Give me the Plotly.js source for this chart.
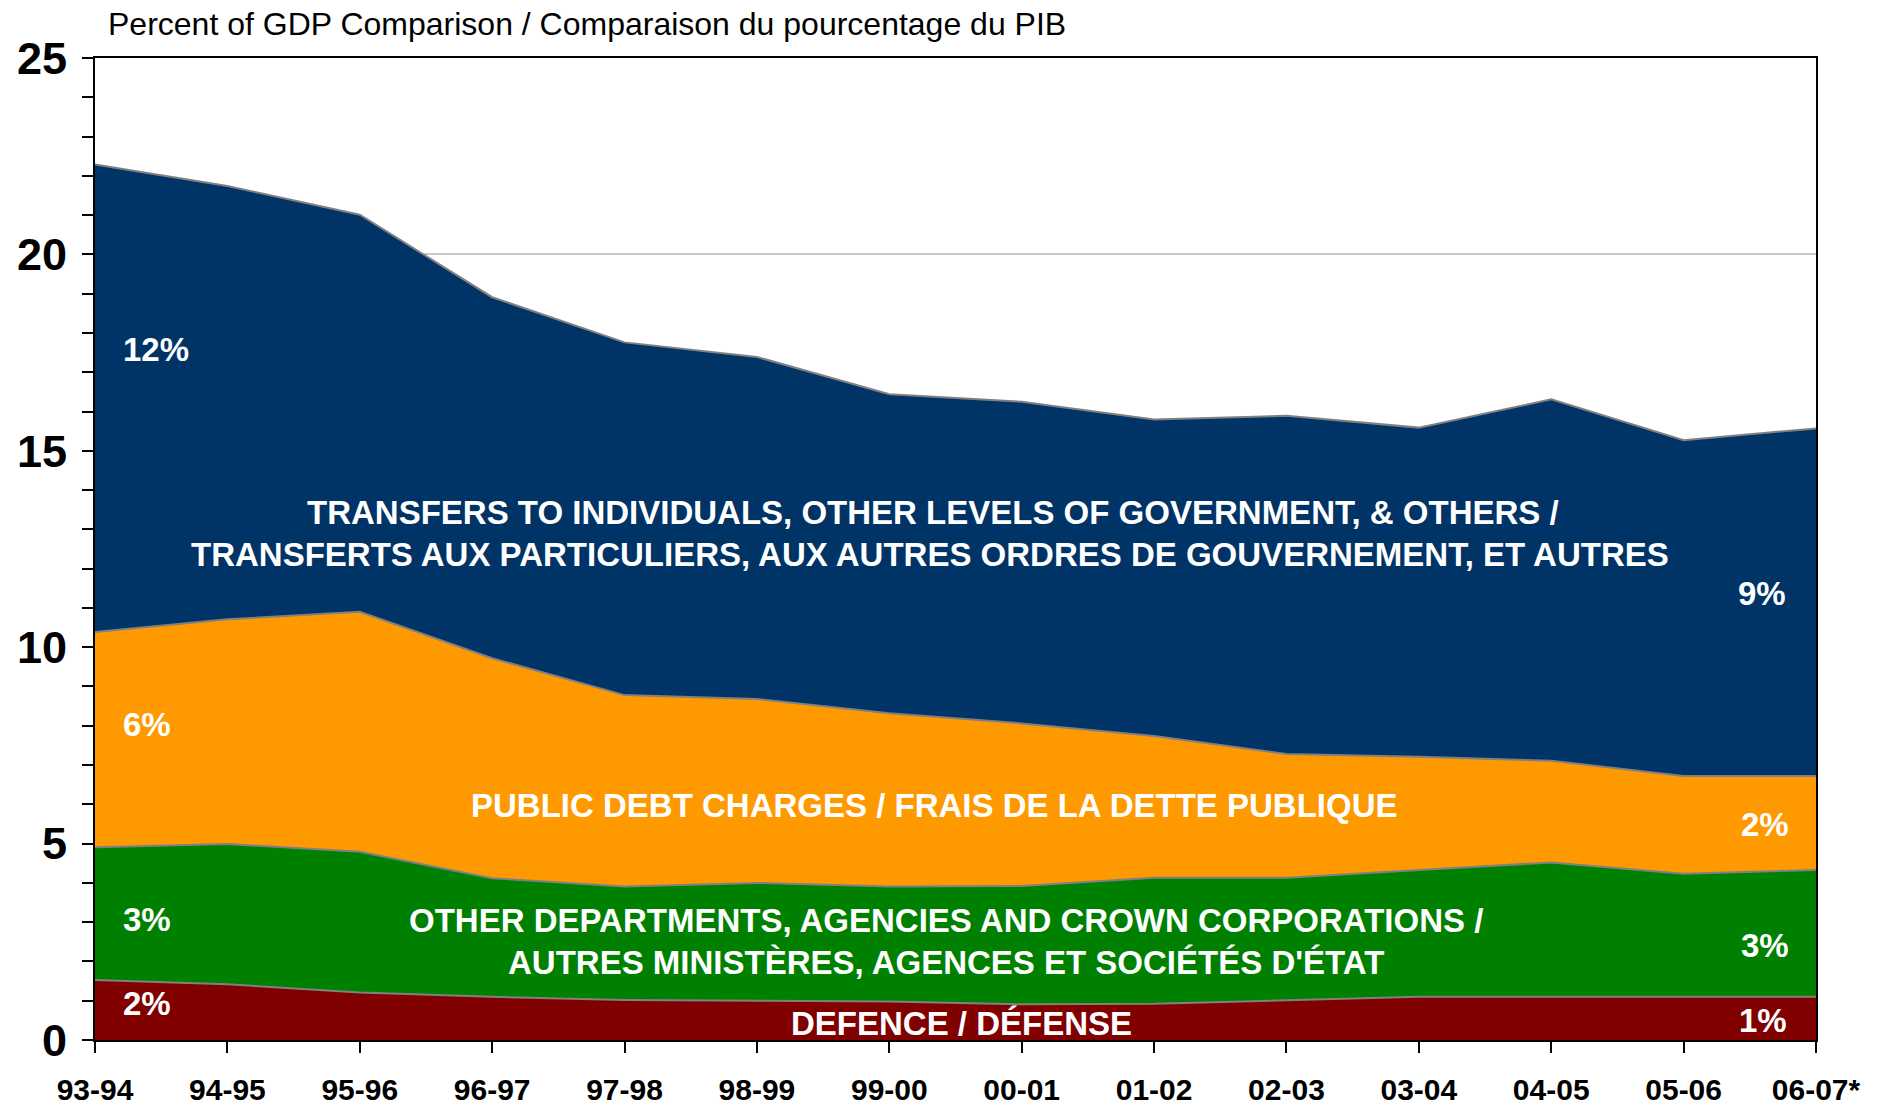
<!DOCTYPE html>
<html>
<head>
<meta charset="utf-8">
<script src="https://cdn.plot.ly/plotly-3.0.1.min.js"></script>
<style>html,body{margin:0;padding:0;background:#fff}#chart{width:1883px;height:1106px}</style>
</head>
<body>
<div id="chart"></div>
<script>
const years = ["93-94","94-95","95-96","96-97","97-98","98-99","99-00","00-01","01-02","02-03","03-04","04-05","05-06","06-07*"];
const defence   = [1.53,1.42,1.21,1.10,1.02,1.00,0.98,0.91,0.92,1.01,1.10,1.10,1.10,1.10];
const otherDept = [3.38,3.57,3.58,3.02,2.89,3.00,2.93,3.01,3.21,3.12,3.23,3.42,3.13,3.23];
const debt      = [5.48,5.72,6.11,5.60,4.87,4.68,4.41,4.14,3.61,3.15,2.88,2.59,2.49,2.39];
const transfers = [11.90,11.03,10.11,9.19,8.98,8.71,8.12,8.19,8.06,8.61,8.38,9.20,8.55,8.85];
const yTicks = [0,5,10,15,20,25];

const FONT = "Liberation Sans, Arial, sans-serif";
function area(name, vals, color){
  return {x: years, y: vals, name: name, type: 'scatter', mode: 'lines', stackgroup: 'one',
    fillcolor: color, line: {color: '#808080', width: 2}, hoverinfo: 'skip'};
}
const data = [
  area('Defence', defence, '#800000'),
  area('Other', otherDept, '#008000'),
  area('Debt', debt, '#FF9900'),
  area('Transfers', transfers, '#003366')
];
const W = 1883, H = 1106, L = 95, R = 1816, T = 58, B = 1040;
function px(x){ return (x - L) / (R - L); }
function py(y){ return (B - y) / (B - T); }
function lab(text, x, y, size){
  return {text: text, xref: 'paper', yref: 'paper', x: px(x), y: py(y), xanchor: 'center', yanchor: 'middle',
    showarrow: false, font: {family: FONT, size: size || 33, color: '#ffffff', weight: 'bold'}};
}
const annotations = [
  lab('<b>12%</b>', 156, 349), lab('<b>6%</b>', 147, 724), lab('<b>3%</b>', 147, 919), lab('<b>2%</b>', 147, 1003),
  lab('<b>9%</b>', 1762, 593), lab('<b>2%</b>', 1765, 824), lab('<b>3%</b>', 1765, 945), lab('<b>1%</b>', 1763, 1020),
  lab('<b>TRANSFERS TO INDIVIDUALS, OTHER LEVELS OF GOVERNMENT, &amp; OTHERS /</b>', 933, 512),
  lab('<b>TRANSFERTS AUX PARTICULIERS, AUX AUTRES ORDRES DE GOUVERNEMENT, ET AUTRES</b>', 930, 554),
  lab('<b>PUBLIC DEBT CHARGES / FRAIS DE LA DETTE PUBLIQUE</b>', 934, 805),
  lab('<b>OTHER DEPARTMENTS, AGENCIES AND CROWN CORPORATIONS /</b>', 946, 920),
  lab('<b>AUTRES MINISTÈRES, AGENCES ET SOCIÉTÉS D\'ÉTAT</b>', 946, 962),
  lab('<b>DEFENCE / DÉFENSE</b>', 961, 1023)
];
const layout = {
  width: W, height: H,
  margin: {l: L, r: W - R, t: T, b: H - B, pad: 0},
  paper_bgcolor: '#ffffff', plot_bgcolor: '#ffffff',
  showlegend: false,
  font: {family: FONT, color: '#000000'},
  title: {text: 'Percent of GDP Comparison / Comparaison du pourcentage du PIB', xref: 'container', yref: 'container',
    x: 108 / W, xanchor: 'left', y: 1 - 24 / H, yanchor: 'middle', font: {family: FONT, size: 32, color: '#000000'}},
  xaxis: {type: 'category', range: [0, years.length - 1], showgrid: false, zeroline: false,
    showline: true, linecolor: '#000000', linewidth: 2, mirror: true,
    ticks: 'outside', ticklen: 11, tickwidth: 2, tickcolor: '#000000',
    tickfont: {family: FONT, size: 30, color: '#000000', weight: 'bold'}, ticklabelstandoff: 11},
  yaxis: {range: [0, 25], tickvals: yTicks, ticktext: yTicks.map(String), showgrid: true, gridcolor: '#c8c8c8', gridwidth: 2,
    zeroline: false, showline: true, linecolor: '#000000', linewidth: 2, mirror: true,
    ticks: 'outside', ticklen: 11, tickwidth: 2, tickcolor: '#000000',
    minor: {dtick: 1, ticks: 'outside', ticklen: 11, tickwidth: 2, tickcolor: '#000000', showgrid: false},
    tickfont: {family: FONT, size: 45, color: '#000000', weight: 'bold'}, ticklabelstandoff: 6},
  annotations: annotations
};
Plotly.newPlot('chart', data, layout, {staticPlot: true, displayModeBar: false});
</script>
</body>
</html>
